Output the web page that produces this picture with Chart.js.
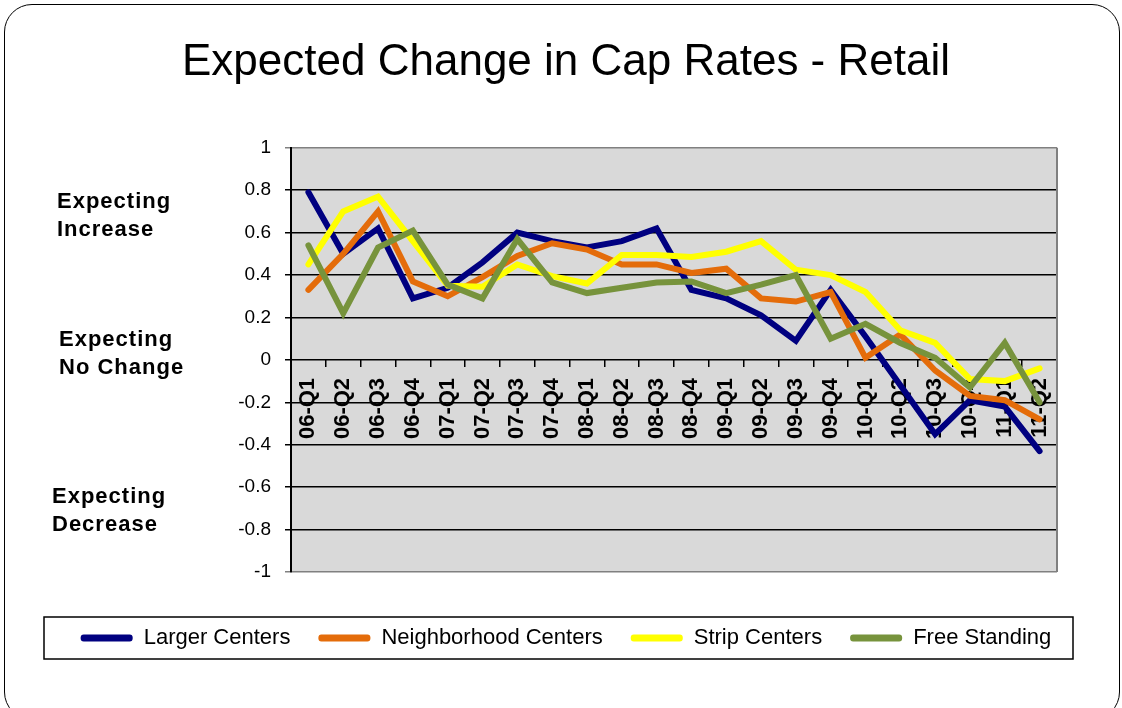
<!DOCTYPE html>
<html lang="en">
<head>
<meta charset="UTF-8" />
<title>Expected Change in Cap Rates - Retail</title>
<script src="https://cdn.jsdelivr.net/npm/chart.js"></script>
<style>
  html, body { margin: 0; padding: 0; background: #fff; overflow: hidden; }
  .wrap { position: relative; width: 1122px; height: 708px; }
  .frame {
    position: absolute; left: 4px; top: 4px; width: 1116px; height: 716px;
    box-sizing: border-box; border: 1.5px solid #000; border-radius: 28px;
    pointer-events: none;
  }
</style>
</head>
<body>
<div class="wrap">
  <canvas id="myChart"></canvas>
  <div class="frame"></div>
</div>
<script>
  const quarters = [
    '06-Q1', '06-Q2', '06-Q3', '06-Q4',
    '07-Q1', '07-Q2', '07-Q3', '07-Q4',
    '08-Q1', '08-Q2', '08-Q3', '08-Q4',
    '09-Q1', '09-Q2', '09-Q3', '09-Q4',
    '10-Q1', '10-Q2', '10-Q3', '10-Q4',
    '11-Q1', '11-Q2'
  ];
  const largerCenters = [0.79, 0.50, 0.62, 0.29, 0.34, 0.46, 0.60, 0.56, 0.53, 0.56, 0.62, 0.33,
                         0.29, 0.21, 0.09, 0.33, 0.11, -0.12, -0.35, -0.19, -0.22, -0.43];
  const neighborhoodCenters = [0.33, 0.50, 0.70, 0.37, 0.30, 0.39, 0.49, 0.55, 0.52, 0.45, 0.45, 0.41,
                               0.43, 0.29, 0.275, 0.32, 0.01, 0.12, -0.05, -0.17, -0.19, -0.28];
  const stripCenters = [0.45, 0.70, 0.77, 0.56, 0.35, 0.345, 0.45, 0.395, 0.36, 0.495, 0.495, 0.485,
                        0.51, 0.56, 0.425, 0.40, 0.32, 0.14, 0.08, -0.09, -0.10, -0.04];
  const freeStanding = [0.54, 0.22, 0.53, 0.61, 0.355, 0.29, 0.57, 0.365, 0.315, 0.34, 0.365, 0.37,
                        0.315, 0.355, 0.40, 0.10, 0.17, 0.08, 0.01, -0.13, 0.08, -0.20];

  Chart.defaults.font.family = '"Liberation Sans", Arial, sans-serif';
  Chart.defaults.color = '#000';

  // grey plot area, grey right edge, side notes and the box round the legend
  const decorations = {
    id: 'decorations',
    beforeDraw(chart) {
      const { ctx, chartArea: a } = chart;
      ctx.save();
      ctx.fillStyle = '#d9d9d9';
      ctx.fillRect(a.left, a.top, a.right - a.left, a.bottom - a.top);
      ctx.restore();
    },
    beforeDatasetsDraw(chart) {
      const { ctx, chartArea: a } = chart;
      ctx.save();
      ctx.strokeStyle = '#808080';
      ctx.lineWidth = 2;
      ctx.beginPath();
      ctx.moveTo(a.right, a.top);
      ctx.lineTo(a.right, a.bottom);
      ctx.stroke();
      ctx.restore();
    },
    afterDraw(chart) {
      const { ctx } = chart;
      const y = chart.scales.y;
      const notes = [
        { lines: ['Expecting', 'Increase'], at: 0.68, x: 57 },
        { lines: ['Expecting', 'No Change'], at: 0.03, x: 59 },
        { lines: ['Expecting', 'Decrease'], at: -0.71, x: 52 }
      ];
      ctx.save();
      ctx.fillStyle = '#000';
      ctx.font = 'bold 22px "Liberation Sans", Arial, sans-serif';
      ctx.letterSpacing = '1px';
      ctx.textAlign = 'left';
      ctx.textBaseline = 'middle';
      notes.forEach(n => {
        const cy = y.getPixelForValue(n.at);
        ctx.fillText(n.lines[0], n.x, cy - 14);
        ctx.fillText(n.lines[1], n.x, cy + 14);
      });
      ctx.restore();

      const hb = chart.legend.legendHitBoxes[0];
      const mid = hb.top + hb.height / 2;
      ctx.save();
      ctx.strokeStyle = '#000';
      ctx.lineWidth = 1.5;
      ctx.strokeRect(44, mid - 21, chart.width - 44 - 49, 42);
      ctx.restore();
    }
  };

  const line = (label, data, color, order) => ({
    label, data, order,
    borderColor: color,
    backgroundColor: color,
    borderWidth: 6,
    borderCapStyle: 'round',
    pointRadius: 0,
    tension: 0,
    fill: false
  });

  const ctx = document.getElementById('myChart').getContext('2d');
  new Chart(ctx, {
    type: 'line',
    data: {
      labels: quarters,
      datasets: [
        line('Larger Centers', largerCenters, '#000080', 3),
        line('Neighborhood Centers', neighborhoodCenters, '#e46c0a', 2),
        line('Strip Centers', stripCenters, '#ffff00', 1),
        line('Free Standing', freeStanding, '#77933c', 0)
      ]
    },
    options: {
      responsive: true,
      maintainAspectRatio: false,
      animation: false,
      events: [],
      layout: { padding: { top: 36, right: 0, bottom: 49, left: 10 } },
      plugins: {
        title: {
          display: true,
          text: 'Expected Change in Cap Rates - Retail',
          color: '#000',
          font: { size: 44, weight: 'normal' },
          padding: { top: 0, bottom: 59 }
        },
        // empty spacer between the plot and the legend
        subtitle: {
          display: true,
          position: 'bottom',
          text: '',
          weight: 500,
          font: { size: 10 },
          padding: { top: 7.5, bottom: 7.5 }
        },
        legend: {
          position: 'bottom',
          weight: 1000,
          labels: {
            boxWidth: 52,
            boxHeight: 7,
            padding: 28,
            color: '#000',
            font: { size: 22 },
            useBorderRadius: true,
            borderRadius: 3,
            sort: (a, b) => a.datasetIndex - b.datasetIndex,
            generateLabels(chart) {
              return Chart.defaults.plugins.legend.labels.generateLabels(chart).map(item => {
                item.fillStyle = item.strokeStyle;
                item.lineWidth = 0;
                return item;
              });
            }
          }
        },
        tooltip: { enabled: false }
      },
      scales: {
        x: {
          position: { y: 0 },
          offset: true,
          border: { display: false },
          grid: {
            offset: true,
            drawOnChartArea: false,
            drawTicks: true,
            tickLength: 7,
            color: '#000',
            lineWidth: 1.5
          },
          ticks: {
            autoSkip: false,
            minRotation: 90,
            maxRotation: 90,
            padding: 11,
            color: '#000',
            font: { size: 22, weight: 'bold' }
          }
        },
        y: {
          min: -1,
          max: 1,
          afterFit(scale) { scale.width = 281; },
          border: { color: '#000', width: 2 },
          grid: {
            color: c => Math.abs(c.tick.value) > 0.99 ? '#808080' : '#000',
            lineWidth: 1.5,
            tickLength: 6
          },
          ticks: {
            stepSize: 0.2,
            padding: 14,
            color: '#000',
            font: { size: 19 },
            callback: v => String(parseFloat(Number(v).toFixed(1)))
          }
        },
        // empty right-hand margin so the title and legend centre like the original
        margin: {
          type: 'linear',
          position: 'right',
          border: { display: false },
          grid: { display: false },
          ticks: { display: false },
          afterFit(scale) { scale.width = 65; }
        }
      }
    },
    plugins: [decorations]
  });
</script>
</body>
</html>
